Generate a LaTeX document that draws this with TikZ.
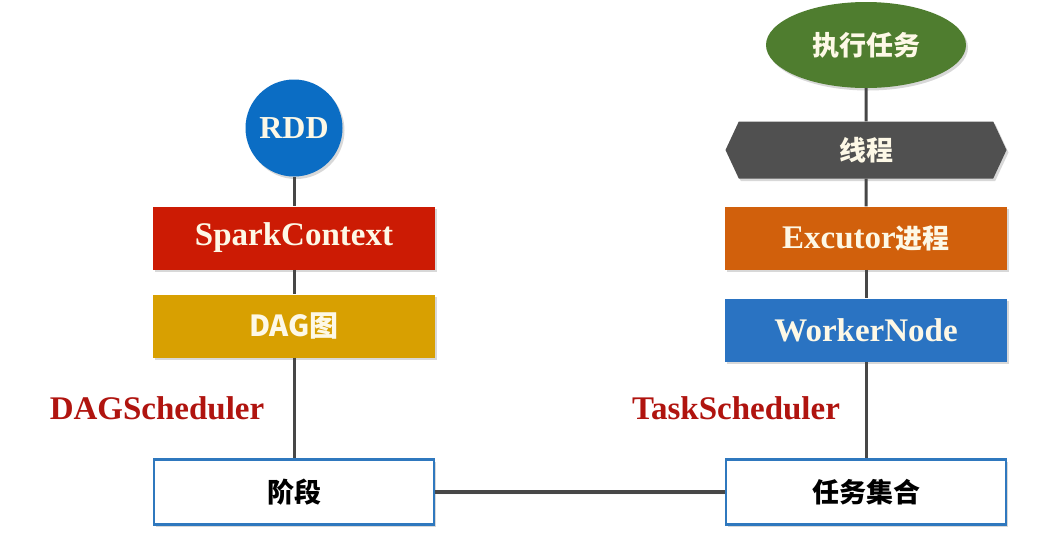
\documentclass[tikz,border=0pt]{standalone}
\usepackage{fontspec}
\setmainfont{Liberation Serif}
\newfontfamily\cjk{Noto Sans CJK SC}
\usetikzlibrary{shapes.geometric,shapes.symbols,shadows}
\definecolor{rddblue}{HTML}{0B6DC4}
\definecolor{sparkred}{HTML}{CC1B04}
\definecolor{daggold}{HTML}{D8A001}
\definecolor{runlgreen}{HTML}{4F7D2F}
\definecolor{threadgray}{HTML}{505050}
\definecolor{execorange}{HTML}{D1600C}
\definecolor{workerblue}{HTML}{2A73C2}
\definecolor{frameblue}{HTML}{2F78BE}
\definecolor{schedred}{HTML}{B0140F}
\definecolor{linegray}{HTML}{474747}
\definecolor{cream}{HTML}{FDF8E6}
\newcommand{\zh}[1]{{\cjk\bfseries #1}}

\begin{document}
\begin{tikzpicture}[x=1pt, y=-1pt,
    shade/.style={drop shadow={shadow xshift=2pt, shadow yshift=-2.5pt, opacity=0.3}},
    block/.style={rectangle, minimum width=282pt, minimum height=63pt, inner sep=0pt,
      text=cream, font=\fontsize{33}{33}\selectfont\bfseries, shade},
    frame/.style={rectangle, minimum width=280pt, minimum height=65pt, inner sep=0pt,
      draw=frameblue, line width=2.8pt, fill=white, text=black,
      font=\fontsize{27}{27}\selectfont, shade},
    sched/.style={text=schedred, font=\fontsize{33}{33}\selectfont\bfseries},
    link/.style={draw=linegray, line width=3pt}]
  \fill[white] (0,0) rectangle (1046,542);
  \useasboundingbox (0,0) rectangle (1046,542);
  % left column
  \node[circle, fill=rddblue, minimum size=97pt, inner sep=0pt, text=cream,
    font=\fontsize{32}{32}\selectfont\bfseries, shade] (rdd) at (294,128) {RDD};
  \node[block, fill=sparkred] (spark) at (294,238) {SparkContext};
  \node[block, fill=daggold, font=\fontsize{29}{29}\selectfont] (dag) at (294,326) {\zh{DAG图}};
  \node[sched] (dagsched) at (157,408) {DAGScheduler};
  \node[frame] (stage) at (294,492) {\zh{阶段}};
  % right column
  \node[ellipse, fill=runlgreen, minimum width=200pt, minimum height=86pt, inner sep=0pt,
    text=cream, font=\fontsize{27}{27}\selectfont, shade] (run) at (866,45) {\zh{执行任务}};
  \node[signal, signal to=east and west, signal pointer angle=130, fill=threadgray,
    minimum width=281pt, minimum height=57pt, inner sep=0pt, text=cream,
    font=\fontsize{27}{27}\selectfont, shade] (thread) at (866,150) {\zh{线程}};
  \node[block, fill=execorange] (executor) at (866,238) {Excutor{\fontsize{27}{27}\selectfont\zh{进程}}};
  \node[block, fill=workerblue] (worker) at (866,330) {WorkerNode};
  \node[sched] (tasksched) at (736,408) {TaskScheduler};
  \node[frame] (taskset) at (866,492) {\zh{任务集合}};
  % connectors
  \draw[link] (rdd) -- (spark);
  \draw[link] (spark) -- (dag);
  \draw[link] (dag) -- (stage);
  \draw[link] (run) -- (thread);
  \draw[link] (thread) -- (executor);
  \draw[link] (executor) -- (worker);
  \draw[link] (worker) -- (taskset);
  \draw[link, line width=4.5pt, shade] (stage) -- (taskset);
\end{tikzpicture}
\end{document}
